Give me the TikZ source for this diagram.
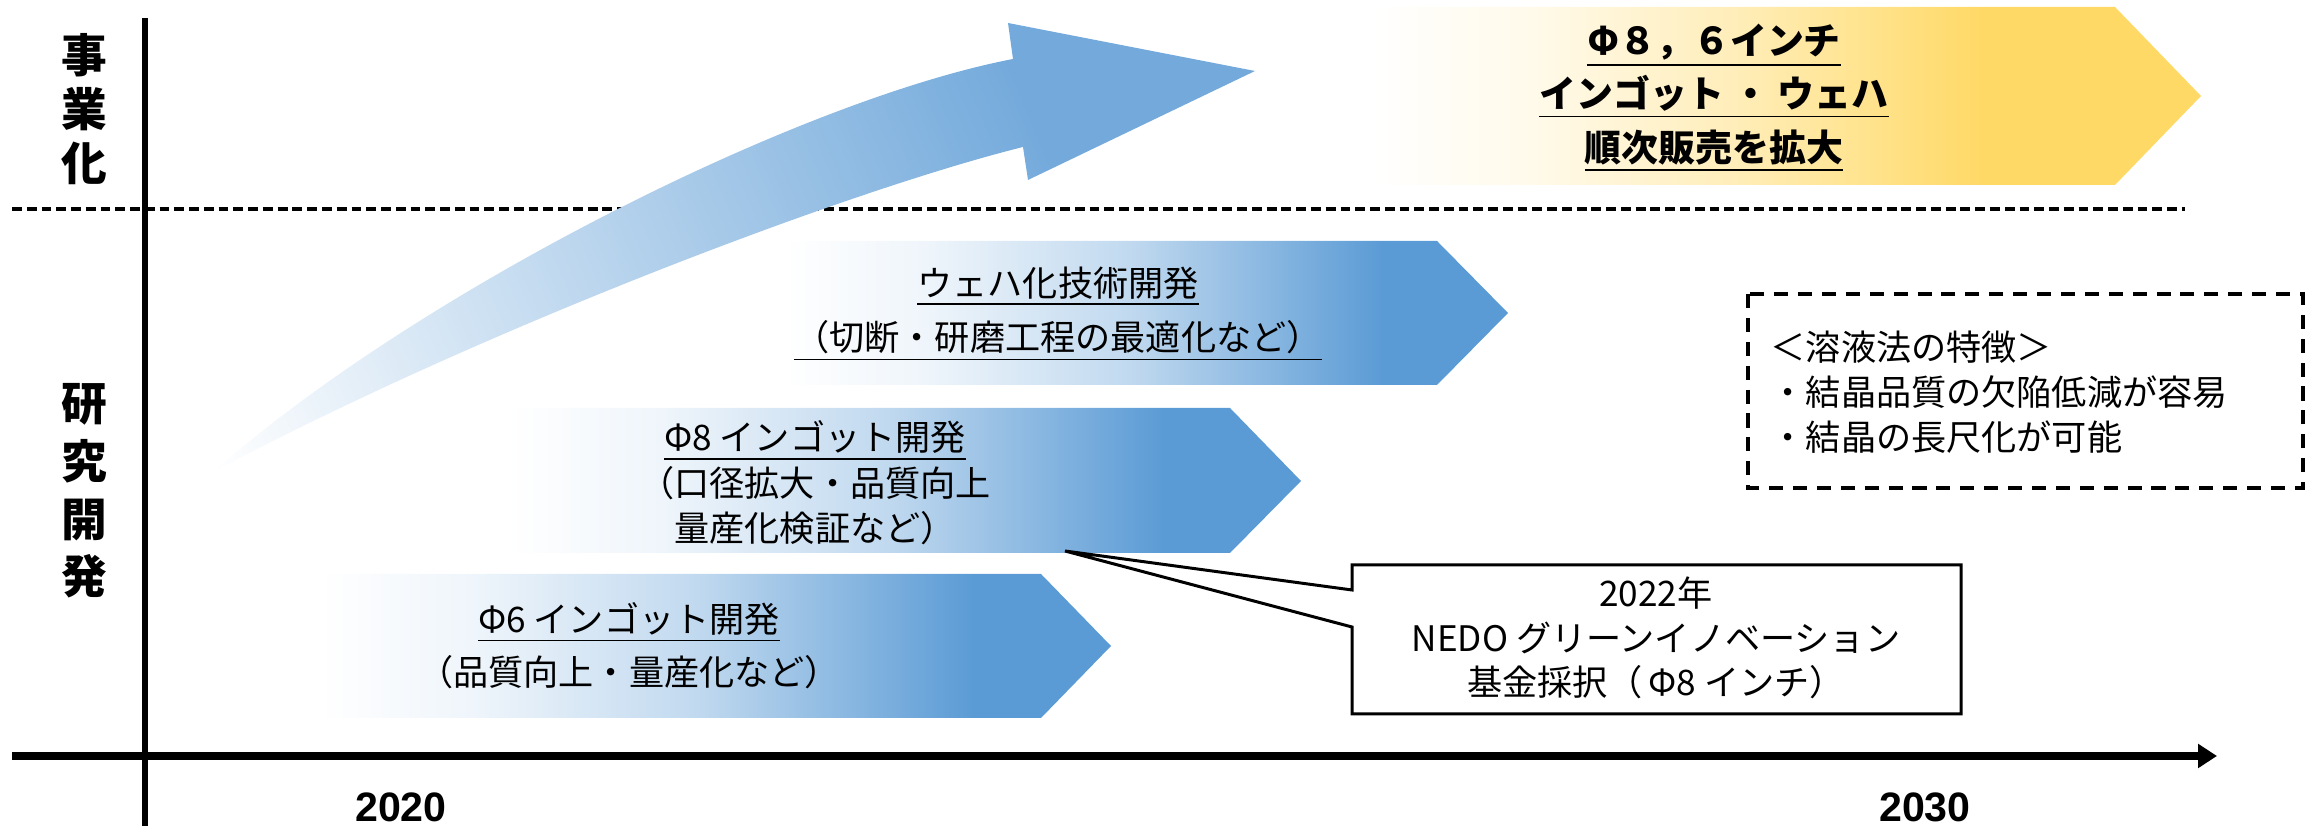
\documentclass[tikz,border=0pt]{standalone}
\usepackage{fontspec}
\setmainfont{Noto Sans CJK JP}
\newfontfamily\yearfont{Liberation Sans}
\usepackage{tikz}
\usetikzlibrary{arrows.meta}

\definecolor{barblue}{RGB}{91,155,213}
\definecolor{bargold}{RGB}{255,217,102}
\pgfdeclarehorizontalshading{bluefade}{100bp}{color(0bp)=(white); color(29bp)=(white); color(38bp)=(barblue!10!white); color(51bp)=(barblue!38!white); color(67bp)=(barblue); color(100bp)=(barblue)}
\pgfdeclarehorizontalshading{goldfade}{100bp}{color(0bp)=(white); color(29bp)=(white); color(38bp)=(bargold!14!white); color(49bp)=(bargold!45!white); color(63bp)=(bargold); color(100bp)=(bargold)}
\pgfdeclarehorizontalshading{arcfade}{100bp}{color(0bp)=(white); color(17bp)=(white); color(44bp)=(barblue!45!white); color(69bp)=(barblue!85!white); color(100bp)=(barblue!85!white)}

\tikzset{
  sidelab/.style={font=\bfseries\fontsize{13}{16}\selectfont, align=center, inner sep=0pt},
  barlab/.style={font=\fontsize{10}{12.8}\selectfont, align=center, inner sep=0pt},
  yearlab/.style={font=\yearfont\bfseries\fontsize{11.7}{14}\selectfont, anchor=base, inner sep=0pt},
}

\begin{document}
\begin{tikzpicture}[x=0.1mm,y=-0.1mm]
\useasboundingbox (0,0) rectangle (2323,826);
\coordinate (dl) at (12,209);
\coordinate (dr) at (2185,209);
\draw[line width=0.9pt, dash pattern=on 2.8pt off 1.4pt] (dl) -- (dr);
\path[shading=goldfade] (1300,7) -- (2115,7) -- (2201,96) -- (2115,185) -- (1300,185) -- cycle;
\path[shading=bluefade] (720,241) -- (1437,241) -- (1508,313) -- (1437,385) -- (720,385) -- cycle;
\path[shading=bluefade] (440,408) -- (1230,408) -- (1301,481) -- (1230,553) -- (440,553) -- cycle;
\path[shading=bluefade] (250,574) -- (1041,574) -- (1111,646) -- (1041,718) -- (250,718) -- cycle;
\path[shading=arcfade, shading angle=23] (213,472) .. controls (420,290) and (800,100) .. (1013,59) -- (1008,23) -- (1255,71) -- (1028,180) -- (1023,147) .. controls (850,190) and (480,330) .. (213,472) -- cycle;
\coordinate (ytop) at (145,18);
\coordinate (ybot) at (145,826);
\coordinate (xl) at (12,756);
\coordinate (xr) at (2217,756);
\draw[line width=1.6pt] (ytop) -- (ybot);
\draw[line width=2pt, -{Triangle[length=5.4pt,width=6.6pt]}] (xl) -- (xr);
\node[sidelab] (jigyo) at (84,109) {事\\[-0.6pt]業\\[-0.6pt]化};
\node[sidelab] (kenkyu) at (84,491) {研\\[0.4pt]究\\[0.4pt]開\\[0.4pt]発};
\node[yearlab] (y2020) at (401,822) {2020};
\node[yearlab] (y2030) at (1925,822) {2030};
\node[barlab, font=\bfseries\fontsize{10.5}{15.2}\selectfont] (hanbai) at (1714,98) {\underline{Φ８，６インチ}\\\underline{インゴット ・ ウェハ}\\\underline{順次販売を拡大}};
\node[barlab, font=\fontsize{10}{15.6}\selectfont] (wafer) at (1058,314) {\underline{ウェハ化技術開発}\\\underline{（切断・研磨工程の最適化など）}};
\node[barlab, font=\fontsize{10}{12.9}\selectfont] (ingot8) at (815,483) {\underline{Φ8 インゴット開発}\\（口径拡大・品質向上\\量産化検証など）};
\node[barlab, font=\fontsize{10}{15.1}\selectfont] (ingot6) at (629,646) {\underline{Φ6 インゴット開発}\\（品質向上・量産化など）};
\draw[line width=1.1pt, dash pattern=on 4pt off 2.8pt] (1748,294) rectangle (2303,488);
\node[barlab, align=left, anchor=west, font=\fontsize{10}{12.8}\selectfont] (tokucho) at (1770,392) {＜溶液法の特徴＞\\・結晶品質の欠陥低減が容易\\・結晶の長尺化が可能};
\coordinate (ptip) at (1065,551);
\draw[line width=0.85pt] (1352,590) -- (1352,565) -- (1961,565) -- (1961,714) -- (1352,714) -- (1352,627) -- (ptip) -- cycle;
\node[barlab, font=\fontsize{10}{12.7}\selectfont] (nedo) at (1656,638) {2022年\\NEDO グリーンイノベーション\\基金採択（\,Φ8 インチ）};
\end{tikzpicture}
\end{document}
